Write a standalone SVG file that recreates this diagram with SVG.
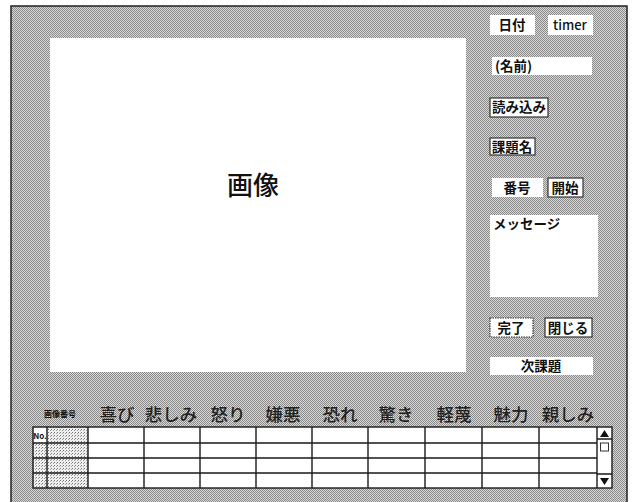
<svg xmlns="http://www.w3.org/2000/svg" width="637" height="502" viewBox="0 0 637 502">
<defs>
<pattern id="dither" width="2" height="2" patternUnits="userSpaceOnUse">
<rect width="2" height="2" fill="#d6d6d6"/>
<rect x="0" y="0" width="1" height="1" fill="#8c8c8c"/>
<rect x="1" y="1" width="1" height="1" fill="#8c8c8c"/>
</pattern>
<pattern id="noise" width="3" height="3" patternUnits="userSpaceOnUse">
<rect width="3" height="3" fill="#eeeeee"/>
<rect x="0" y="0" width="1" height="1" fill="#7a7a7a"/>
<rect x="2" y="1" width="1" height="1" fill="#a0a0a0"/>
</pattern>
<style>
.btn{fill:#ffffff;stroke:none}
.bd{fill:#ffffff;stroke:#333333;stroke-width:1.2}
.bt{font-family:"Noto Sans CJK JP","Noto Sans",sans-serif;font-weight:bold;font-size:13.5px;fill:#111111;text-anchor:middle}
.hd{font-family:"Noto Sans CJK JP","Noto Sans",sans-serif;font-size:17.5px;font-weight:500;fill:#222222;text-anchor:middle}
.grid{stroke:#1a1a1a;stroke-width:1.4;fill:none}
</style>
</defs>
<rect width="637" height="502" fill="#ffffff"/>
<g id="frame">
<rect x="11" y="6" width="616" height="500" fill="url(#dither)" stroke="#222222" stroke-width="1.5"/>
</g>
<g id="image">
<rect x="50" y="38" width="416" height="334" fill="#ffffff"/>
<text x="253" y="195" font-family="'Noto Sans CJK JP','Noto Sans',sans-serif" font-size="26" font-weight="500" text-anchor="middle" fill="#111111">画像</text>
</g>
<g id="date"><rect class="btn" x="490" y="15" width="45" height="20"/><text class="bt" x="512" y="30">日付</text></g>
<g id="timer"><rect class="btn" x="548" y="15" width="45" height="20"/><text class="bt" x="570" y="30" style="font-weight:500;font-size:13px">timer</text></g>
<g id="name"><rect class="btn" x="492" y="57" width="100" height="18"/><text class="bt" x="495" y="71" style="text-anchor:start">(名前)</text></g>
<g id="load"><rect class="bd" x="490" y="98" width="58" height="19"/><text class="bt" x="519" y="112">読み込み</text></g>
<g id="task"><rect class="bd" x="490" y="138" width="45" height="17"/><text class="bt" x="512" y="152">課題名</text></g>
<g id="number"><rect class="btn" x="492" y="178" width="51" height="19"/><text class="bt" x="517" y="193">番号</text></g>
<g id="start"><rect class="bd" x="548" y="178" width="35" height="19"/><text class="bt" x="565" y="193">開始</text></g>
<g id="message"><rect class="btn" x="490" y="215" width="108" height="82"/><text class="bt" x="493" y="229" style="text-anchor:start">メッセージ</text></g>
<g id="done"><rect class="bd" x="490" y="318" width="43" height="19" stroke-dasharray="1.5 1"/><text class="bt" x="511" y="333">完了</text></g>
<g id="close"><rect class="bd" x="545" y="318" width="47" height="19"/><text class="bt" x="568" y="333">閉じる</text></g>
<g id="next"><rect class="btn" x="490" y="357" width="103" height="18"/><text class="bt" x="541" y="371">次課題</text></g>
<g id="headers">
<text x="60" y="417" font-family="'Noto Sans CJK JP',sans-serif" font-size="8" font-weight="bold" text-anchor="middle" fill="#111111">画像番号</text>
<text class="hd" x="117" y="421">喜び</text>
<text class="hd" x="171" y="421">悲しみ</text>
<text class="hd" x="228" y="421">怒り</text>
<text class="hd" x="283" y="421">嫌悪</text>
<text class="hd" x="340" y="421">恐れ</text>
<text class="hd" x="396" y="421">驚き</text>
<text class="hd" x="454" y="421">軽蔑</text>
<text class="hd" x="511" y="421">魅力</text>
<text class="hd" x="568" y="421">親しみ</text>
</g>
<g id="table">
<rect x="33" y="427" width="579" height="61" fill="#ffffff"/>
<rect x="47" y="427" width="41" height="61" fill="url(#noise)"/>
<rect x="33" y="443" width="14" height="45" fill="url(#noise)"/>
<text x="40" y="439" font-family="'Noto Sans CJK JP',sans-serif" font-size="8" font-weight="bold" text-anchor="middle" fill="#111111">No.</text>
<rect class="grid" x="33" y="427" width="579" height="61"/>
<path class="grid" d="M33 443H597M33 458H597M33 473H597M47 427V488M88 427V488M144 427V488M200 427V488M256 427V488M312 427V488M368 427V488M425 427V488M482 427V488M539 427V488M597 427V488"/>
<path class="grid" d="M597 439H612M597 474H612"/>
<polygon points="604.5,430 600,437 609,437" fill="#111111"/>
<rect x="600.5" y="443" width="8" height="8" fill="#ffffff" stroke="#333333" stroke-width="1"/>
<polygon points="604.5,485 600,478 609,478" fill="#111111"/>
</g>
</svg>
